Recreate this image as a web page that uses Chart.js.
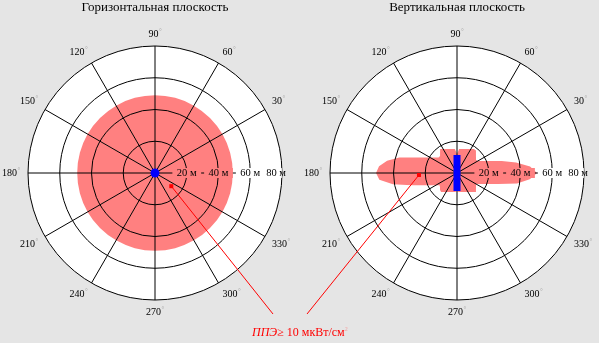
<!DOCTYPE html>
<html lang="ru">
<head>
<meta charset="utf-8">
<title>Диаграммы направленности</title>
<script src="https://cdn.jsdelivr.net/npm/chart.js@4/dist/chart.umd.min.js"></script>
<style>
  html, body { margin: 0; padding: 0; background: #e5e5e5; }
  #wrap { position: relative; width: 599px; height: 343px; overflow: hidden; }
  canvas { position: absolute; top: 0; }
  #horiz { left: 0; }
  #vert { left: 300px; }
  #note {
    position: absolute; left: 252px; top: 322px;
    font: 12px/14px "Liberation Serif", serif; color: #f00; white-space: nowrap;
  }
  #note sup { font-size: 6px; color: #f4a0a0; vertical-align: 5px; }
</style>
</head>
<body>
<div id="wrap">
  <canvas id="horiz" width="300" height="343"></canvas>
  <canvas id="vert" width="299" height="343"></canvas>
  <div id="note"><i>ППЭ≥</i> 10 мкВт/см<sup>2</sup></div>
</div>
<script>
// range rings, metres
const rangeTicks = [20, 40, 60, 80];
const rangeUnit = 'м';

// labelled directions, degrees (0 is left unlabelled)
const angleTicks = [90, 60, 30, 330, 300, 270, 240, 210, 180, 150, 120];

// horizontal plane: 30° sectors, clockwise from 90°
const horizAngles = [90, 60, 30, 0, 330, 300, 270, 240, 210, 180, 150, 120];
const horizRange = [49, 49, 49, 49, 49, 49, 49, 49, 49, 49, 49, 49];

// vertical plane: 5° steps, clockwise from 90°
const vertAngles = [
  90, 85, 80, 75, 70, 65,
  60, 55, 50, 45, 40, 35,
  30, 25, 20, 15, 10, 5,
  0, 355, 350, 345, 340, 335,
  330, 325, 320, 315, 310, 305,
  300, 295, 290, 285, 280, 275,
  270, 265, 260, 255, 250, 245,
  240, 235, 230, 225, 220, 215,
  210, 205, 200, 195, 190, 185,
  180, 175, 170, 165, 160, 155,
  150, 145, 140, 135, 130, 125,
  120, 115, 110, 105, 100, 95
];
const vertRange = [
  12.0, 15.2, 15.4, 15.6, 16.1, 16.7,
  17.5, 18.5, 18.6, 16.9, 15.6, 14.6,
  15.1, 17.9, 22.1, 29.2, 37.8, 46.2,
  50.4, 46.0, 38.4, 26.8, 20.3, 16.4,
  13.9, 14.6, 15.6, 16.9, 15.6, 14.6,
  13.8, 13.2, 12.7, 12.4, 12.2, 12.0,
  11.3, 12.0, 12.2, 12.4, 12.7, 13.2,
  13.8, 14.6, 15.6, 15.1, 14.0, 13.4,
  15.4, 18.2, 22.5, 29.7, 41.0, 49.1,
  51.0, 49.3, 44.7, 37.7, 28.5, 23.1,
  19.5, 17.0, 15.2, 15.1, 16.6, 18.5,
  17.5, 16.7, 16.1, 15.6, 15.4, 15.2
];

// measuring points: range (m) and direction (deg), horizontal then vertical
const pointRange = [13.2, 24];
const pointAngle = [321, 183];

const PINK = '#ff8080';
const SERIF = '"Liberation Serif", serif';

function polarXY(s, value, deg) {
  const d = s.getDistanceFromCenterForValue(value);
  const a = deg * Math.PI / 180;
  return { x: s.xCenter + Math.cos(a) * d, y: s.yCenter - Math.sin(a) * d };
}

// white disc under the grid, labels, antenna, measuring point and leader
const polarDecor = {
  id: 'polarDecor',
  beforeDraw(chart) {
    const s = chart.scales.r;
    const ctx = chart.ctx;
    ctx.save();
    ctx.fillStyle = '#fff';
    ctx.beginPath();
    ctx.arc(s.xCenter, s.yCenter, s.getDistanceFromCenterForValue(s.max), 0, Math.PI * 2);
    ctx.fill();
    ctx.restore();
  },
  afterDraw(chart, args, opts) {
    const s = chart.scales.r;
    const ctx = chart.ctx;
    const R = s.drawingArea;
    const labels = chart.data.labels;

    ctx.save();
    ctx.textBaseline = 'middle';
    ctx.textAlign = 'left';

    // direction labels with a small grey degree mark
    angleTicks.forEach(a => {
      const i = labels.indexOf(a);
      const p = s.getPointPosition(i, R + 8);
      const c = (450 - a) % 360;
      const txt = String(a);
      ctx.font = '10px ' + SERIF;
      const w = ctx.measureText(txt).width + 3;
      let x = p.x, y = p.y;
      if (c === 0 || c === 180) x -= w / 2;
      else if (c > 180) x -= w;
      if (c < 90 || c > 270) y -= 4;
      else if (c > 90 && c < 270) y += 4;
      ctx.fillStyle = '#000';
      ctx.fillText(txt, x, y);
      ctx.font = '7px ' + SERIF;
      ctx.fillStyle = '#aaa';
      ctx.fillText('°', x + w - 2.5, y - 3);
    });

    // range labels along 0°
    const i0 = labels.indexOf(0);
    const edge = chart.data.datasets[0].data[i0];
    ctx.font = '10.5px ' + SERIF;
    ctx.textAlign = 'center';
    rangeTicks.forEach(v => {
      const label = v + ' ' + rangeUnit;
      const w = ctx.measureText(label).width;
      const d = Math.min(s.getDistanceFromCenterForValue(v), R + 4 - w / 2);
      const p = s.getPointPosition(i0, d);
      ctx.save();
      ctx.beginPath();
      ctx.arc(s.xCenter, s.yCenter, R, 0, Math.PI * 2);
      ctx.clip();
      ctx.fillStyle = v < edge ? PINK : '#fff';
      ctx.fillRect(p.x - w / 2 - 4.5, p.y - 5, w + 9, 10);
      ctx.restore();
      ctx.fillStyle = '#000';
      ctx.fillText(label, p.x, p.y + 0.5);
    });

    // antenna
    ctx.fillStyle = '#00f';
    if (opts.antenna === 'dot') {
      ctx.beginPath();
      ctx.arc(s.xCenter, s.yCenter, 4.5, 0, Math.PI * 2);
      ctx.fill();
    } else {
      ctx.fillRect(s.xCenter - 3.5, s.yCenter - 18, 7, 36);
    }

    // measuring point and leader to the note
    const m = polarXY(s, pointRange[opts.point], pointAngle[opts.point]);
    const note = document.getElementById('note').getBoundingClientRect();
    const box = chart.canvas.getBoundingClientRect();
    const ex = note.left + opts.leaderX - box.left;
    const ey = note.top - 8 - box.top;
    ctx.strokeStyle = '#f00';
    ctx.lineWidth = 1;
    ctx.beginPath();
    ctx.moveTo(m.x, m.y);
    ctx.lineTo(ex, ey);
    ctx.stroke();
    ctx.fillStyle = '#f00';
    ctx.fillRect(m.x - 2, m.y - 2, 4, 4);
    ctx.restore();
  }
};

function baseOptions(title, padLeft, padRight, decor) {
  return {
    responsive: false,
    animation: false,
    layout: { padding: { left: padLeft, right: padRight, top: 0, bottom: 42 } },
    plugins: {
      legend: { display: false },
      tooltip: { enabled: false },
      title: {
        display: true,
        text: title,
        color: '#000',
        font: { family: 'Liberation Serif', size: 13, weight: 'normal', lineHeight: 1.1 },
        padding: { top: 0, bottom: 32 }
      },
      polarDecor: decor
    },
    scales: {
      r: {
        min: 0,
        max: 80,
        ticks: { display: false, stepSize: 20 },
        grid: { circular: true, color: '#000', lineWidth: 1, z: 1 },
        angleLines: {
          display: true,
          color: '#000',
          lineWidth: c => (Number(c.label) % 30 === 0 ? 1 : 0)
        },
        pointLabels: { display: false }
      }
    }
  };
}

new Chart(document.getElementById('horiz'), {
  type: 'polarArea',
  data: {
    labels: horizAngles,
    datasets: [{ data: horizRange, backgroundColor: PINK, borderWidth: 0 }]
  },
  options: baseOptions('Горизонтальная плоскость', 28, 18,
    { antenna: 'dot', point: 0, leaderX: 21 }),
  plugins: [polarDecor]
});

new Chart(document.getElementById('vert'), {
  type: 'radar',
  data: {
    labels: vertAngles,
    datasets: [{
      data: vertRange,
      backgroundColor: PINK,
      borderWidth: 0,
      pointRadius: 0,
      fill: true,
      tension: 0
    }]
  },
  options: baseOptions('Вертикальная плоскость', 30, 15,
    { antenna: 'bar', point: 1, leaderX: 55 }),
  plugins: [polarDecor]
});
</script>
</body>
</html>
